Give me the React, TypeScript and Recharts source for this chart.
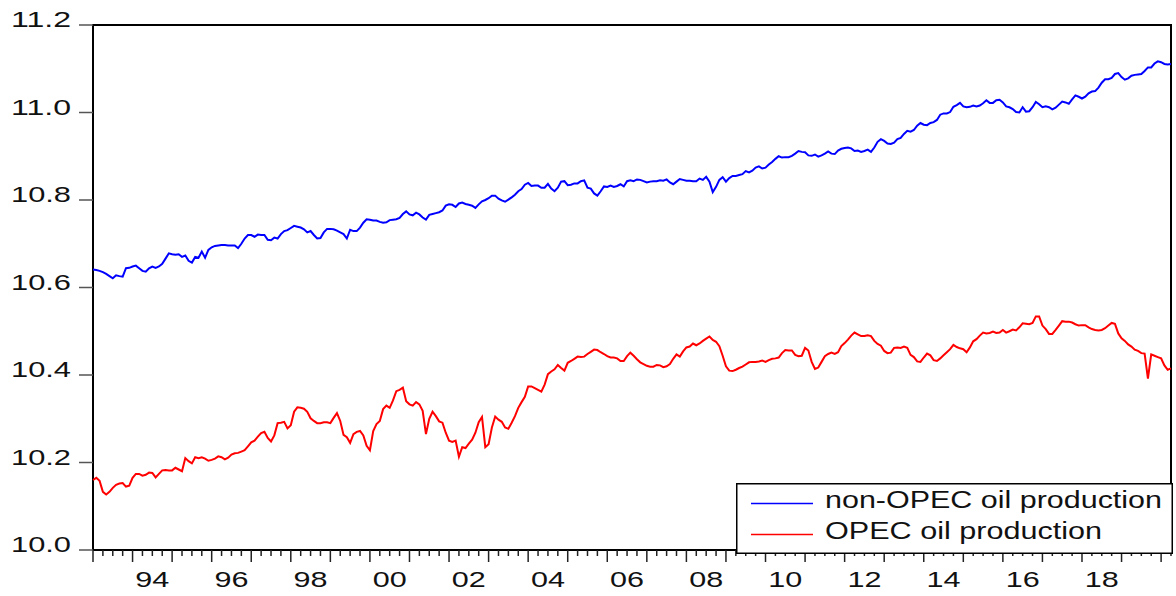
import { LineChart, Line, XAxis, YAxis, ReferenceArea } from 'recharts'

const START_YEAR = 1993

// monthly log production, 1993M01 .. 2020M04
const nonOpec = [
  10.641, 10.640, 10.638, 10.635, 10.631, 10.626, 10.621, 10.628, 10.626, 10.625, 10.644, 10.645,
  10.648, 10.650, 10.644, 10.638, 10.636, 10.644, 10.648, 10.645, 10.648, 10.654, 10.666, 10.678,
  10.676, 10.675, 10.676, 10.670, 10.673, 10.661, 10.657, 10.670, 10.668, 10.682, 10.668, 10.686,
  10.692, 10.695, 10.696, 10.697, 10.697, 10.696, 10.696, 10.696, 10.690, 10.700, 10.712, 10.720,
  10.720, 10.716, 10.721, 10.720, 10.720, 10.709, 10.708, 10.714, 10.712, 10.722, 10.729, 10.731,
  10.736, 10.741, 10.739, 10.737, 10.733, 10.726, 10.729, 10.720, 10.712, 10.713, 10.726, 10.734,
  10.734, 10.733, 10.730, 10.726, 10.722, 10.712, 10.732, 10.729, 10.729, 10.737, 10.748, 10.756,
  10.755, 10.753, 10.753, 10.750, 10.748, 10.749, 10.754, 10.755, 10.756, 10.759, 10.768, 10.774,
  10.767, 10.765, 10.771, 10.767, 10.760, 10.755, 10.766, 10.768, 10.770, 10.772, 10.776, 10.787,
  10.790, 10.789, 10.784, 10.792, 10.794, 10.791, 10.789, 10.787, 10.782, 10.790, 10.797, 10.800,
  10.804, 10.810, 10.810, 10.803, 10.799, 10.796, 10.801, 10.806, 10.812, 10.820, 10.825, 10.835,
  10.839, 10.832, 10.833, 10.833, 10.828, 10.828, 10.837, 10.826, 10.820, 10.828, 10.842, 10.843,
  10.834, 10.835, 10.838, 10.838, 10.843, 10.845, 10.828, 10.826, 10.815, 10.810, 10.820, 10.831,
  10.830, 10.833, 10.830, 10.832, 10.836, 10.831, 10.843, 10.845, 10.843, 10.847, 10.846, 10.843,
  10.840, 10.842, 10.843, 10.843, 10.845, 10.844, 10.847, 10.840, 10.836, 10.842, 10.848, 10.846,
  10.844, 10.844, 10.843, 10.843, 10.849, 10.846, 10.853, 10.842, 10.818, 10.830, 10.846, 10.852,
  10.842, 10.850, 10.855, 10.855, 10.857, 10.859, 10.866, 10.863, 10.867, 10.874, 10.877, 10.872,
  10.874, 10.881, 10.887, 10.894, 10.900, 10.897, 10.898, 10.898, 10.901, 10.906, 10.912, 10.910,
  10.909, 10.902, 10.901, 10.904, 10.899, 10.902, 10.906, 10.911, 10.906, 10.905, 10.913, 10.917,
  10.919, 10.920, 10.918, 10.912, 10.913, 10.910, 10.912, 10.915, 10.910, 10.920, 10.933, 10.939,
  10.935, 10.929, 10.928, 10.931, 10.939, 10.942, 10.951, 10.958, 10.956, 10.960, 10.970, 10.976,
  10.972, 10.971, 10.976, 10.978, 10.983, 10.995, 10.998, 10.998, 11.001, 11.013, 11.017, 11.022,
  11.014, 11.012, 11.013, 11.016, 11.014, 11.016, 11.021, 11.028, 11.022, 11.022, 11.028, 11.029,
  11.023, 11.014, 11.012, 11.008, 11.001, 11.000, 11.012, 11.002, 11.003, 11.012, 11.024, 11.019,
  11.012, 11.014, 11.012, 11.007, 11.011, 11.018, 11.025, 11.023, 11.020, 11.030, 11.039, 11.036,
  11.032, 11.036, 11.044, 11.048, 11.049, 11.057, 11.068, 11.076, 11.076, 11.079, 11.088, 11.090,
  11.081, 11.075, 11.078, 11.084, 11.086, 11.087, 11.088, 11.095, 11.103, 11.103, 11.112, 11.117,
  11.115, 11.111, 11.110, 11.111,
]

const opec = [
  10.160, 10.165, 10.158, 10.133, 10.127, 10.133, 10.142, 10.149, 10.152, 10.153, 10.145, 10.147,
  10.165, 10.174, 10.174, 10.170, 10.172, 10.177, 10.176, 10.166, 10.174, 10.182, 10.183, 10.182,
  10.182, 10.188, 10.184, 10.180, 10.210, 10.203, 10.198, 10.212, 10.210, 10.212, 10.209, 10.204,
  10.206, 10.209, 10.214, 10.212, 10.207, 10.211, 10.218, 10.221, 10.222, 10.225, 10.228, 10.237,
  10.246, 10.250, 10.259, 10.267, 10.270, 10.256, 10.248, 10.262, 10.290, 10.291, 10.293, 10.278,
  10.285, 10.316, 10.326, 10.325, 10.323, 10.316, 10.301, 10.295, 10.290, 10.290, 10.292, 10.292,
  10.290, 10.302, 10.313, 10.295, 10.263, 10.258, 10.245, 10.265, 10.270, 10.272, 10.262, 10.238,
  10.228, 10.272, 10.288, 10.295, 10.322, 10.330, 10.325, 10.342, 10.363, 10.366, 10.371, 10.340,
  10.333, 10.330, 10.338, 10.333, 10.318, 10.265, 10.300, 10.316, 10.306, 10.294, 10.291, 10.268,
  10.250, 10.247, 10.250, 10.213, 10.235, 10.233, 10.243, 10.252, 10.268, 10.292, 10.304, 10.235,
  10.242, 10.280, 10.305, 10.298, 10.293, 10.280, 10.277, 10.291, 10.306, 10.325, 10.338, 10.350,
  10.374, 10.374, 10.370, 10.366, 10.362, 10.378, 10.402, 10.408, 10.413, 10.423, 10.416, 10.410,
  10.428, 10.432, 10.437, 10.442, 10.441, 10.442, 10.448, 10.453, 10.458, 10.457, 10.452, 10.448,
  10.443, 10.440, 10.440, 10.438, 10.432, 10.432, 10.443, 10.451, 10.444, 10.436, 10.429, 10.425,
  10.421, 10.419, 10.419, 10.423, 10.422, 10.418, 10.420, 10.425, 10.437, 10.447, 10.442, 10.454,
  10.463, 10.465, 10.472, 10.468, 10.472, 10.478, 10.483, 10.488, 10.480, 10.476, 10.466, 10.444,
  10.420, 10.410, 10.409, 10.412, 10.416, 10.419, 10.424, 10.429, 10.430, 10.430, 10.431, 10.433,
  10.430, 10.434, 10.437, 10.438, 10.440, 10.450, 10.457, 10.456, 10.456, 10.446, 10.443, 10.444,
  10.462, 10.456, 10.430, 10.414, 10.417, 10.430, 10.443, 10.448, 10.451, 10.448, 10.452, 10.466,
  10.473, 10.481, 10.490, 10.497, 10.493, 10.489, 10.489, 10.491, 10.489, 10.478, 10.471, 10.467,
  10.455, 10.450, 10.451, 10.462, 10.463, 10.462, 10.465, 10.462, 10.446, 10.441, 10.431, 10.430,
  10.440, 10.449, 10.445, 10.434, 10.432, 10.438, 10.445, 10.452, 10.459, 10.469, 10.464, 10.461,
  10.459, 10.452, 10.463, 10.477, 10.482, 10.490, 10.497, 10.495, 10.496, 10.499, 10.496, 10.497,
  10.503, 10.497, 10.500, 10.504, 10.502, 10.509, 10.518, 10.517, 10.516, 10.519, 10.534, 10.534,
  10.513, 10.505, 10.494, 10.494, 10.503, 10.513, 10.523, 10.522, 10.522, 10.520, 10.516, 10.513,
  10.514, 10.514, 10.509, 10.505, 10.503, 10.502, 10.503, 10.507, 10.513, 10.519, 10.517, 10.495,
  10.484, 10.478, 10.470, 10.465, 10.458, 10.455, 10.450, 10.449, 10.392, 10.447, 10.444, 10.441,
  10.438, 10.422, 10.412, 10.415,
]

const yTicks = [10.0, 10.2, 10.4, 10.6, 10.8, 11.0, 11.2]
const labelYears = [1994, 1996, 1998, 2000, 2002, 2004, 2006, 2008, 2010, 2012, 2014, 2016, 2018]

const lastMonth = nonOpec.length - 1
const data = nonOpec.map((v, i) => ({ t: i, nonOpec: v, opec: opec[i] }))
// quarterly tick marks
const xTicks = data.filter((d) => d.t % 3 === 0).map((d) => d.t)

const FONT = '"Liberation Sans", Arial, Helvetica, sans-serif'

const XTick = (props: any) => {
  const { x, y, payload } = props
  const m = payload.value as number
  const major = m % 12 === 0
  const yr = START_YEAR + Math.floor(m / 12)
  const label = m % 12 === 6 && labelYears.includes(yr) ? String(yr).slice(2) : null
  return (
    <g>
      <line x1={x} x2={x} y1={y} y2={y + (major ? 12 : 6)} stroke="#222" strokeWidth={1.5} />
      {label && (
        <text x={x} y={y + 37} textAnchor="middle" fontSize={22} fill="#111"
          fontFamily={FONT} textLength={34} lengthAdjust="spacingAndGlyphs">
          {label}
        </text>
      )}
    </g>
  )
}

const YTick = (props: any) => {
  const { x, y, payload } = props
  return (
    <g>
      <line x1={x - 14} x2={x} y1={y} y2={y} stroke="#555" strokeWidth={1.5} />
      <text x={x - 22} y={y + 2} textAnchor="end" fontSize={22} fill="#111"
        fontFamily={FONT} textLength={60} lengthAdjust="spacingAndGlyphs">
        {Number(payload.value).toFixed(1)}
      </text>
    </g>
  )
}

function LegendBox() {
  return (
    <div style={{ position: 'absolute', left: 735.5, top: 482.5, width: 437, height: 71 }}>
      <svg width={437} height={71} style={{ display: 'block' }}>
        <rect x={0.75} y={0.75} width={435.5} height={69.5} fill="#fff" stroke="#000" strokeWidth={1.5} />
        <line x1={15} x2={77} y1={20.5} y2={20.5} stroke="#0000ff" strokeWidth={1.5} />
        <line x1={15} x2={77} y1={51.5} y2={51.5} stroke="#ff0000" strokeWidth={1.5} />
        <text x={89} y={25} fontSize={23} fill="#111" fontFamily={FONT}
          textLength={337} lengthAdjust="spacingAndGlyphs">non-OPEC oil production</text>
        <text x={89} y={55.6} fontSize={23} fill="#111" fontFamily={FONT}
          textLength={277} lengthAdjust="spacingAndGlyphs">OPEC oil production</text>
      </svg>
    </div>
  )
}

export default function App() {
  // pinned to the viewport corner so the body margin cannot push it into a scroll
  return (
    <div style={{ position: 'absolute', left: 0, top: 0, width: 1176, height: 596, fontFamily: FONT, background: '#fff' }}>
      <LineChart width={1176} height={596} data={data}
        margin={{ top: 25, right: 5, bottom: 0, left: 0 }}>
        <XAxis dataKey="t" type="number" domain={[0, lastMonth]} ticks={xTicks} interval={0}
          height={46} tickSize={0} tickMargin={0} tickLine={false} axisLine={false} tick={<XTick />} />
        <YAxis type="number" domain={[10, 11.2]} ticks={yTicks} interval={0} width={93}
          tickSize={0} tickMargin={0} tickLine={false} axisLine={false} tick={<YTick />} />
        <Line type="linear" dataKey="nonOpec" stroke="#0000ff" strokeWidth={2} dot={false}
          isAnimationActive={false} />
        <Line type="linear" dataKey="opec" stroke="#ff0000" strokeWidth={2} dot={false}
          isAnimationActive={false} />
        <ReferenceArea x1={0} x2={lastMonth} y1={10} y2={11.2} fill="none" stroke="#000" strokeWidth={2} />
      </LineChart>
      <LegendBox />
    </div>
  )
}
